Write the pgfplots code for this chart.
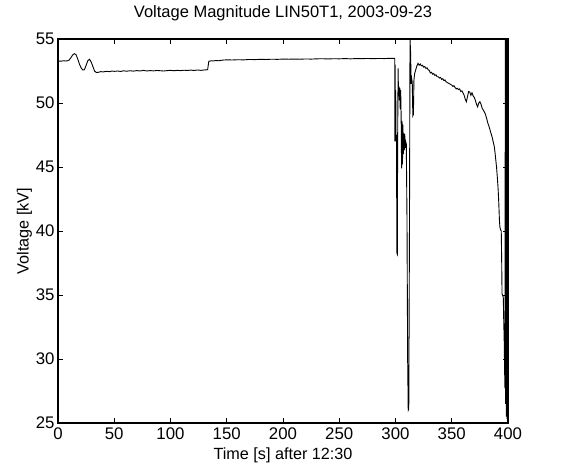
\documentclass[border=0pt]{standalone}
\usepackage{fontspec}
\setmainfont{Liberation Sans}
\usepackage{pgfplots}
\pgfplotsset{compat=1.18}
\begin{document}
\begin{tikzpicture}
\begin{axis}[
  scale only axis,
  width=450pt, height=384pt,
  xmin=0, xmax=400, ymin=25, ymax=55,
  xtick={0,50,...,400}, ytick={25,30,...,55},
  tick align=inside, tick pos=both,
  major tick length=5pt,
  axis line style={line width=1.1pt},
  every tick/.style={black, line width=0.7pt},
  /pgf/number format/assume math mode=true,
  font=\fontsize{16.2}{19}\selectfont,
  tick label style={font=\fontsize{16.8}{19}\selectfont},
  xticklabel style={yshift=-1pt},
  title={Voltage Magnitude LIN50T1, 2003-09-23},
  title style={font=\fontsize{16.5}{19}\selectfont, at={(0.5,1)}, anchor=base, yshift=15pt},
  xlabel={Time [s] after 12:30},
  ylabel={Voltage [kV]},
  xlabel style={at={(0.5,0)}, anchor=base, yshift=-36pt},
  ylabel style={yshift=-3pt},
  clip=true,
]
\addplot[black, line width=0.9pt] coordinates {
(0,53.28) (3,53.27) (5,53.30) (7,53.28) (8.5,53.30) (10,53.36) (11.5,53.55) (13,53.75) (14.5,53.85) (16,53.78) (17.5,53.45) (19,53.05) (20.5,52.75) (22,52.58) (23.5,52.60) (25,52.95) (26.5,53.30) (28,53.42) (29.5,53.20) (31,52.85) (32.5,52.50) (34,52.38) (36,52.40) (38,52.45) (40,52.43)
(43,52.47) (46,52.45) (48,52.50) (50,52.47) (53,52.50) (56,52.46) (58,52.52) (61,52.48) (64,52.52) (67,52.49) (70,52.53) (73,52.50) (76,52.55) (79,52.50) (82,52.53) (85,52.51) (88,52.54) (91,52.52) (94,52.50) (97,52.53) (100,52.55) (103,52.52) (106,52.55) (109,52.53) (112,52.56) (115,52.54) (118,52.57) (121,52.54) (124,52.58) (127,52.55) (130,52.58) (133,52.60)
(134,53.25) (136,53.30) (138,53.28) (140,53.32) (143,53.30) (146,53.35) (150,53.37) (155,53.36) (160,53.38) (165,53.37) (170,53.40) (175,53.39) (180,53.41) (185,53.40) (190,53.42) (195,53.41) (200,53.43) (205,53.42) (210,53.43) (215,53.42) (220,53.44) (225,53.43) (230,53.45) (235,53.46) (240,53.44) (245,53.46) (250,53.45) (255,53.47) (260,53.45) (265,53.47) (270,53.46) (275,53.48) (280,53.46) (285,53.48) (290,53.47) (295,53.49) (299.3,53.48)
(299.5,47.0) (299.7,53.0) (299.9,47.3) (300.2,51.0) (300.5,47.0) (300.9,47.5) (301.2,38.3) (301.6,38.2) (301.9,47.0) (302.3,52.7) (302.6,51.0) (303.0,51.3) (303.4,50.2) (303.8,51.2) (304.2,49.5) (304.6,51.0) (305.0,49.0) (305.4,44.9) (305.8,48.6) (306.2,45.2) (306.6,48.3) (307.0,46.0) (307.4,47.6) (307.8,46.3) (308.2,47.6) (308.6,46.5) (309.0,47.0) (309.6,46.8) (310.2,41.0) (310.8,30.0) (311.3,26.0) (311.8,26.1) (312.4,40.0) (312.9,55.0) (313.4,54.0) (313.9,51.5) (314.4,51.9) (314.9,51.6) (315.4,49.0) (315.9,49.1) (316.4,51.8) (317,52.3) (318,52.6) (319,52.9) (320,53.1) (321,52.95) (322,53.05) (323,52.90) (324,52.95) (325,52.80) (326,52.85) (327,52.70) (328,52.75) (329,52.60) (330,52.55) (331,52.35) (332,52.40) (333,52.25) (334,52.30) (335,52.15) (336,52.20) (337,52.05) (338,52.05) (339,51.95) (340,52.00) (341,51.85) (342,51.90) (343,51.75) (344,51.80) (345,51.65) (346,51.60) (347,51.55) (348,51.50) (349,51.45) (350,51.40) (351,51.30) (352,51.35) (353,51.20) (354,51.10) (355,51.15) (356,51.05) (357,51.10) (358,50.90) (359,50.95) (360,50.80) (361,50.60) (362,50.30) (363,50.10) (364,50.50) (365,50.90) (366,50.85) (367,50.60) (368,50.80) (369,50.55) (370,50.45) (371,50.20) (372,49.90) (373,49.70) (374,50.00) (375,50.10) (376,49.90) (377,49.60) (378,49.45) (379,49.30) (380,49.10) (381,48.80) (382,48.45) (383,48.20) (384,47.90) (385,47.60) (386,47.30) (387,46.90) (387.8,46.60) (388.5,46.10) (389.2,45.50) (389.8,45.00) (390.5,44.20) (391.2,43.30) (391.8,42.20) (392.4,40.80) (392.8,40.30) (393.4,40.10) (394.0,40.00) (394.4,37.50) (394.7,35.10) (395.3,34.95) (395.8,34.85) (396.2,33.00) (396.6,31.50) (397.0,29.00) (397.3,27.70) (397.6,55.00) (397.9,26.50) (398.2,55.00) (398.5,25.50) (398.8,55.00) (399.1,25.30) (399.4,55.00) (399.7,25.20) (400,55.00)
};
\end{axis}
\pgfresetboundingbox
\path (-58pt,-45pt) rectangle (503pt,423pt);
\end{tikzpicture}
\end{document}
